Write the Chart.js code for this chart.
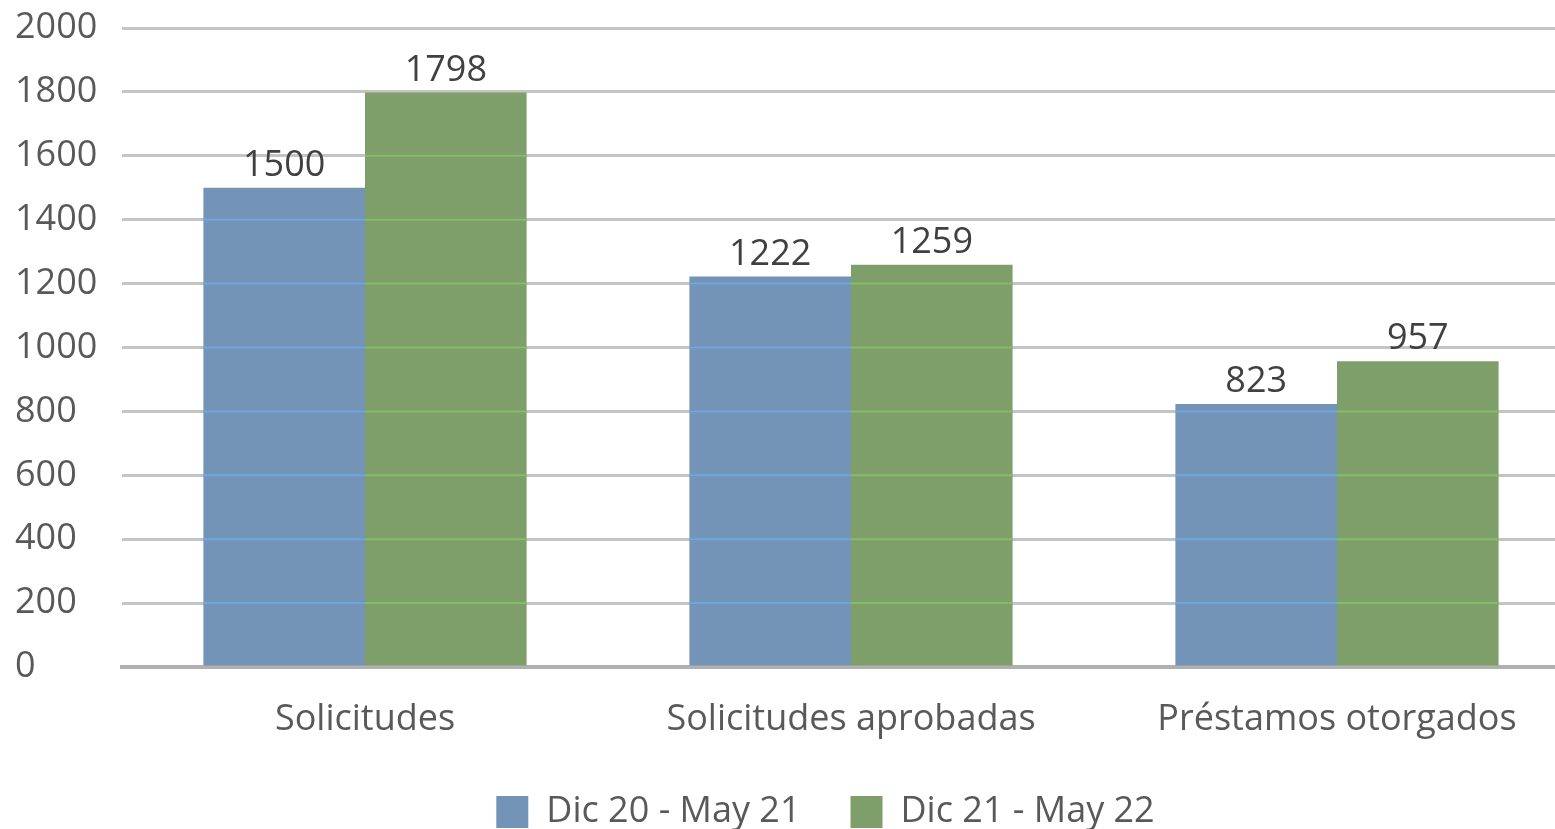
<!DOCTYPE html>
<html>
<head>
<meta charset="utf-8">
<script src="https://cdn.jsdelivr.net/npm/chart.js@4"></script>
<style>
  html, body { margin: 0; padding: 0; background: #fff; overflow: hidden; }
  #wrap { position: absolute; left: 0; top: 0; width: 1580px; height: 840px; }
</style>
</head>
<body>
<div id="wrap"><canvas id="barCanvas" width="1580" height="840"></canvas></div>
<script>
const categories = ["Solicitudes", "Solicitudes aprobadas", "Préstamos otorgados"];
const serie1Label = "Dic 20 - May 21";
const serie1 = [1500, 1222, 823];
const serie2Label = "Dic 21 - May 22";
const serie2 = [1798, 1259, 957];
const yTicks = [0, 200, 400, 600, 800, 1000, 1200, 1400, 1600, 1800, 2000];

const fontFamily = "'Open Sans', 'Noto Sans', sans-serif";
const blue = "#7394b6";
const green = "#7f9f6a";

// étiquettes de valeur au-dessus des barres
const valueLabels = {
  id: "valueLabels",
  afterDatasetsDraw(chart) {
    const { ctx } = chart;
    ctx.save();
    ctx.font = "36px " + fontFamily;
    ctx.fillStyle = "#404040";
    ctx.textAlign = "center";
    ctx.textBaseline = "bottom";
    chart.data.datasets.forEach((ds, i) => {
      chart.getDatasetMeta(i).data.forEach((bar, j) => {
        ctx.fillText(ds.data[j], bar.x, bar.y - 4);
      });
    });
    ctx.restore();
  },
};

// lignes de grille teintées par-dessus les barres
const gridOverBars = {
  id: "gridOverBars",
  afterDatasetsDraw(chart) {
    const { ctx } = chart;
    const yScale = chart.scales.y;
    const tints = ["rgba(110,170,230,0.8)", "rgba(135,195,105,0.8)"];
    ctx.save();
    ctx.lineWidth = 2;
    chart.data.datasets.forEach((ds, i) => {
      ctx.strokeStyle = tints[i];
      chart.getDatasetMeta(i).data.forEach((bar) => {
        const left = bar.x - bar.width / 2;
        const right = bar.x + bar.width / 2;
        yTicks.forEach((t) => {
          const py = yScale.getPixelForValue(t);
          if (py > bar.y && t > 0) {
            ctx.beginPath();
            ctx.moveTo(left, py);
            ctx.lineTo(right, py);
            ctx.stroke();
          }
        });
      });
    });
    ctx.restore();
  },
};

// la légende d'origine est centrée sur un graphique plus large (coupé à droite)
const legendShift = {
  id: "legendShift",
  afterLayout(chart) {
    const lg = chart.legend;
    lg.left += 28;
    lg.right += 28;
  },
};

const barChart = new Chart(document.getElementById("barCanvas"), {
  type: "bar",
  data: {
    labels: categories,
    datasets: [
      {
        label: serie1Label,
        data: serie1,
        backgroundColor: blue,
        borderWidth: 0,
        barPercentage: 1,
        categoryPercentage: 0.665,
      },
      {
        label: serie2Label,
        data: serie2,
        backgroundColor: green,
        borderWidth: 0,
        barPercentage: 1,
        categoryPercentage: 0.665,
      },
    ],
  },
  options: {
    responsive: false,
    animation: false,
    layout: { padding: { top: 28, left: 15, right: 0, bottom: 0 } },
    plugins: {
      tooltip: { enabled: false },
      legend: {
        position: "bottom",
        labels: {
          font: { family: fontFamily, size: 36 },
          color: "#595959",
          boxWidth: 32,
          boxHeight: 32,
          padding: 50,
        },
      },
    },
    scales: {
      x: {
        grid: { display: false },
        border: { color: "#b0b0b0", width: 4 },
        afterFit: (scale) => {
          scale.height = 77;
        },
        ticks: {
          font: { family: fontFamily, size: 36 },
          color: "#595959",
          padding: 23,
        },
      },
      y: {
        min: 0,
        max: 2000,
        afterBuildTicks: (scale) => {
          scale.ticks = yTicks.map((v) => ({ value: v }));
        },
        afterFit: (scale) => {
          scale.width = 107;
          scale.paddingTop = 0;
          scale.paddingBottom = 0;
        },
        grid: {
          color: "#c4c4c4",
          lineWidth: 3,
          drawTicks: false,
        },
        border: { display: false },
        ticks: {
          font: { family: fontFamily, size: 36 },
          color: "#595959",
          padding: 24,
          crossAlign: "far",
          callback: (v) => String(v),
        },
      },
    },
  },
  plugins: [gridOverBars, valueLabels, legendShift],
});
</script>
</body>
</html>
